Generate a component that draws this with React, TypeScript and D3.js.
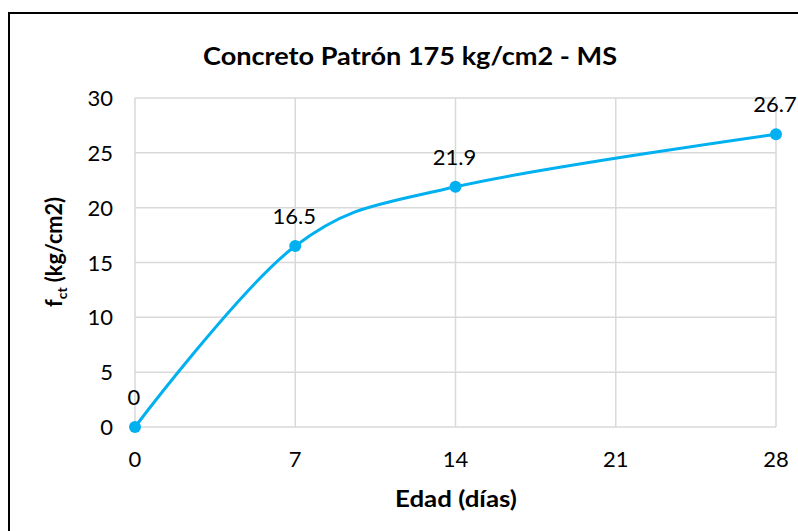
import React from "react";
import * as d3 from "d3";

const ages = [0, 7, 14, 28];
const strength = [0, 16.5, 21.9, 26.7];
const xTicks = [0, 7, 14, 21, 28];
const yTicks = [0, 5, 10, 15, 20, 25, 30];
const title = "Concreto Patrón 175 kg/cm2 - MS";
const xTitle = "Edad (días)";

export default function App() {
  const W = 798, H = 531;
  const x = d3.scaleLinear().domain([0, 28]).range([135, 776]);
  const y = d3.scaleLinear().domain([0, 30]).range([427, 98]);
  const color = "#00B0F0";
  const font = "Lato, 'Open Sans', sans-serif";
  const pts: [number, number][] = ages.map((a, i) => [x(a), y(strength[i])]);
  const line = d3.line().curve(d3.curveCardinal.tension(0))(pts) || "";
  return (
    <svg width={W} height={H} style={{ position: "absolute", left: 0, top: 0 }} fontFamily={font}>
      <rect x={0} y={0} width={W} height={H} fill="#fff" />
      <rect x={9} y={13} width={W + 10} height={H + 10} fill="none" stroke="#000" strokeWidth={2} />
      <text x={410} y={65} textAnchor="middle" fontWeight="bold" fontSize={25} textLength={414} lengthAdjust="spacingAndGlyphs">{title}</text>
      {yTicks.map((t) => (
        <line key={"gy" + t} x1={x(0)} x2={x(28)} y1={y(t)} y2={y(t)} stroke="#d9d9d9" strokeWidth={1.5} />
      ))}
      {xTicks.map((t) => (
        <line key={"gx" + t} x1={x(t)} x2={x(t)} y1={y(0)} y2={y(30)} stroke="#d9d9d9" strokeWidth={1.5} />
      ))}
      {yTicks.map((t) => (
        <text key={"ty" + t} x={113} y={y(t) + 8} textAnchor="end" fontSize={22}>{t}</text>
      ))}
      {xTicks.map((t) => (
        <text key={"tx" + t} x={x(t)} y={467} textAnchor="middle" fontSize={22}>{t}</text>
      ))}
      <text x={456} y={507} textAnchor="middle" fontWeight="bold" fontSize={22} textLength={122} lengthAdjust="spacingAndGlyphs">{xTitle}</text>
      <text transform="translate(62,252) rotate(-90)" textAnchor="middle" fontWeight="bold" fontSize={22} textLength={110} lengthAdjust="spacingAndGlyphs">
        f<tspan fontSize={14} dy={5}>ct</tspan><tspan dy={-5}> (kg/cm2)</tspan>
      </text>
      <path d={line} fill="none" stroke={color} strokeWidth={3} />
      {pts.map((p, i) => (
        <circle key={"c" + i} cx={p[0]} cy={p[1]} r={6} fill={color} />
      ))}
      {pts.map((p, i) => (
        <text key={"l" + i} x={p[0] - 1} y={p[1] - 22} textAnchor="middle" fontSize={22}>{strength[i]}</text>
      ))}
    </svg>
  );
}
